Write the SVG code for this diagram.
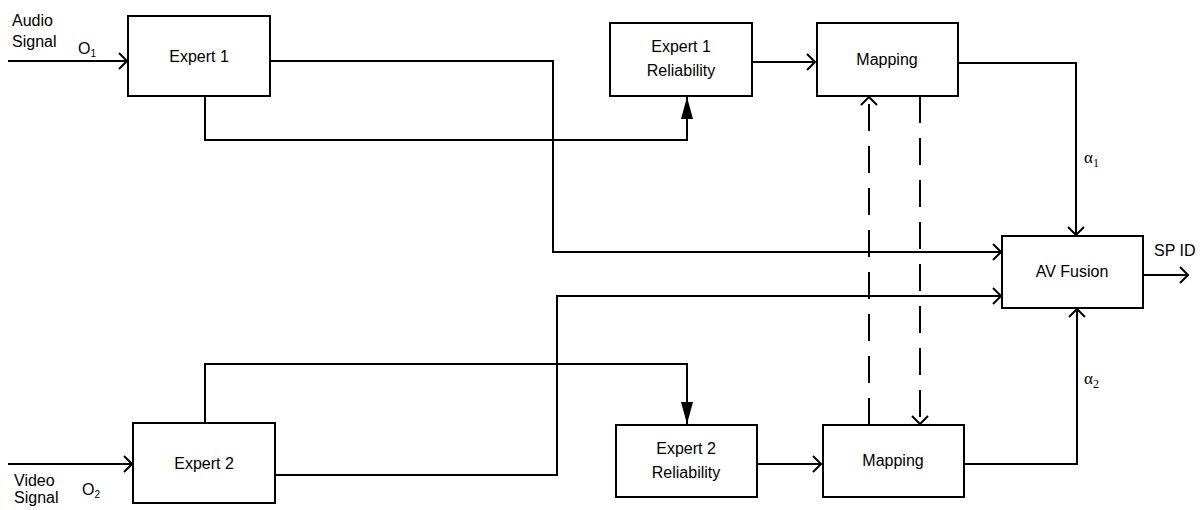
<svg xmlns="http://www.w3.org/2000/svg" width="1200" height="510" viewBox="0 0 1200 510">
<defs>
<style>
.box{fill:#fff;stroke:#000;stroke-width:2}
.ln{fill:none;stroke:#000;stroke-width:2}
.dash{fill:none;stroke:#000;stroke-width:2;stroke-dasharray:27 15}
.t{font-family:"Liberation Sans",Arial,sans-serif;font-size:16px;fill:#000}
.c{text-anchor:middle}
.g{font-family:"Liberation Serif","Times New Roman",serif;font-size:17px;fill:#000}
</style>
<marker id="open" markerUnits="userSpaceOnUse" markerWidth="10" markerHeight="18" viewBox="0 0 10 18" refX="9" refY="9" orient="auto">
<path d="M1,1 L9,9 L1,17" fill="none" stroke="#000" stroke-width="2"/>
</marker>
<marker id="fill" markerUnits="userSpaceOnUse" markerWidth="22" markerHeight="12" viewBox="0 0 22 12" refX="22" refY="6" orient="auto">
<path d="M0,0 L22,6 L0,12 Z" fill="#000"/>
</marker>
</defs>

<g id="connectors">
<path class="ln" d="M8,61 H127" marker-end="url(#open)"/>
<path class="ln" d="M8,464 H132" marker-end="url(#open)"/>
<path class="ln" d="M205,96 V140 H687 V97" marker-end="url(#fill)"/>
<path class="ln" d="M270,61 H553 V252 H1001" marker-end="url(#open)"/>
<path class="ln" d="M205,423 V364 H687 V424" marker-end="url(#fill)"/>
<path class="ln" d="M275,475 H557 V296 H1001" marker-end="url(#open)"/>
<path class="ln" d="M752,62 H815" marker-end="url(#open)"/>
<path class="ln" d="M757,464 H821" marker-end="url(#open)"/>
<path class="ln" d="M958,63 H1076 V235" marker-end="url(#open)"/>
<path class="ln" d="M964,464 H1077 V309" marker-end="url(#open)"/>
<path class="ln" d="M1143,275 H1188" marker-end="url(#open)"/>
<path class="dash" d="M869,425 V97" marker-end="url(#open)"/>
<path class="dash" d="M920,96 V424" marker-end="url(#open)"/>
</g>

<g id="expert1">
<rect class="box" x="128" y="16" width="142" height="80"/>
<text class="t c" x="199" y="62">Expert 1</text>
</g>
<g id="rel1">
<rect class="box" x="610" y="23" width="142" height="73"/>
<text class="t c" x="681" y="52">Expert 1</text>
<text class="t c" x="681" y="76">Reliability</text>
</g>
<g id="map1">
<rect class="box" x="817" y="23" width="141" height="73"/>
<text class="t c" x="887" y="65">Mapping</text>
</g>
<g id="avfusion">
<rect class="box" x="1002" y="236" width="141" height="72"/>
<text class="t c" x="1072" y="277">AV Fusion</text>
</g>
<g id="expert2">
<rect class="box" x="133" y="423" width="142" height="80"/>
<text class="t c" x="204" y="469">Expert 2</text>
</g>
<g id="rel2">
<rect class="box" x="616" y="425" width="141" height="72"/>
<text class="t c" x="686" y="454">Expert 2</text>
<text class="t c" x="686" y="478">Reliability</text>
</g>
<g id="map2">
<rect class="box" x="823" y="425" width="141" height="72"/>
<text class="t c" x="893" y="466">Mapping</text>
</g>

<g id="labels">
<text class="t" x="12" y="26">Audio</text>
<text class="t" x="12" y="47">Signal</text>
<text class="t" x="78" y="54">O<tspan font-size="10" dy="3">1</tspan></text>
<text class="t" x="14" y="486">Video</text>
<text class="t" x="14" y="503">Signal</text>
<text class="t" x="82" y="495">O<tspan font-size="10" dy="3">2</tspan></text>
<text class="t" x="1154" y="256">SP ID</text>
<text class="g" x="1084" y="163">α<tspan font-size="12" dy="4">1</tspan></text>
<text class="g" x="1084" y="384">α<tspan font-size="12" dy="4">2</tspan></text>
</g>
</svg>
